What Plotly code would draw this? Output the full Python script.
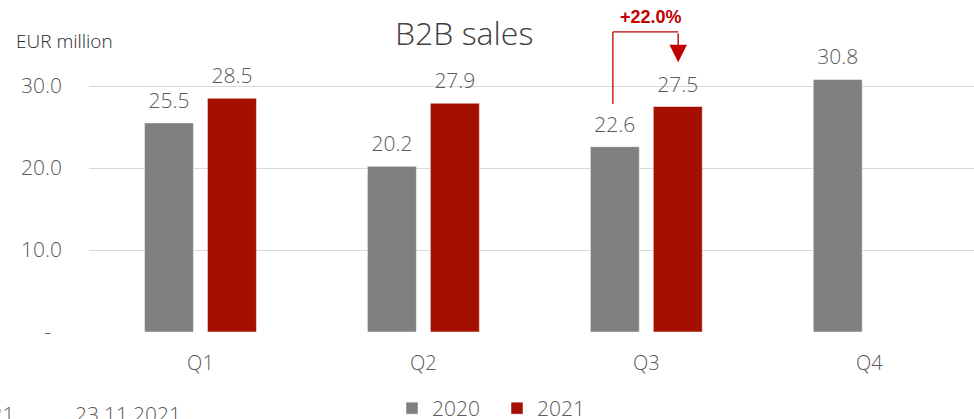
import plotly.graph_objects as go

quarters = ["Q1", "Q2", "Q3", "Q4"]
sales_2020 = [25.5, 20.2, 22.6, 30.8]
sales_2021 = [28.5, 27.9, 27.5, None]
tick_vals = [0, 10, 20, 30]
tick_text = ["-\u00a0\u00a0", "10.0", "20.0", "30.0"]
growth_label = "+22.0%"

GRAY = "#808080"
RED = "#A50F00"
ARROW = "#C00000"
TXT = "#595959"
FONT = "Open Sans"
W = 300
GAP = 0.435

PL, PB = 89, 332  # plot left / bottom in px
PH = 322


def py(px):
    return (PB - px) / PH


def pxx(px):
    return (px - PL) / 885


fig = go.Figure()
for name, vals, col in [("2020", sales_2020, GRAY), ("2021", sales_2021, RED)]:
    fig.add_trace(go.Bar(
        x=quarters, y=vals, name=name, offsetgroup=name,
        marker=dict(color=col, line=dict(color="white", width=0.5)),
        hoverinfo="skip",
    ))
for name, vals in [("2020", sales_2020), ("2021", sales_2021)]:
    fig.add_trace(go.Scatter(
        x=quarters, y=vals, mode="markers+text", offsetgroup=name, showlegend=False,
        marker=dict(size=14, opacity=0),
        text=[f"{v:.1f}" if v is not None else "" for v in vals], textposition="top center",
        textfont=dict(size=21, color=TXT, family=FONT, weight=W), cliponaxis=False,
        hoverinfo="skip",
    ))

# growth arrow Q3 (2020 -> 2021)
x_from = 2 - 0.15
x_to = 2 + 0.143
y_top = 36.6
fig.add_shape(type="line", xref="x", yref="y", x0=x_from, x1=x_from, y0=27.8, y1=y_top,
              line=dict(color=ARROW, width=1.3))
fig.add_shape(type="line", xref="x", yref="y", x0=x_from, x1=x_to, y0=y_top, y1=y_top,
              line=dict(color=ARROW, width=1.3))
fig.add_annotation(x=x_to, y=32.9, xref="x", yref="y", ax=x_to, ay=y_top, axref="x", ayref="y",
                   showarrow=True, arrowhead=2, arrowsize=2.5, arrowwidth=1.4,
                   arrowcolor=ARROW, text="")
fig.add_annotation(x=(x_from + x_to) / 2 + 0.025, y=38.4, xref="x", yref="y",
                   text=f"<b>{growth_label}</b>",
                   showarrow=False, font=dict(size=18, color=ARROW, family="Liberation Sans"))

# title and unit
fig.add_annotation(text="B2B sales", xref="paper", yref="paper", x=pxx(464), y=py(33),
                   xanchor="center", yanchor="middle", showarrow=False,
                   font=dict(size=32, color="#404040", family=FONT, weight=W))
fig.add_annotation(text="EUR million", xref="paper", yref="paper", x=pxx(14), y=py(41),
                   xanchor="left", yanchor="middle", showarrow=False,
                   font=dict(size=19, color="#262626", family=FONT, weight=W))
# footer (cut off)
fig.add_annotation(text="Q3 2021", xref="paper", yref="paper", x=pxx(16), y=py(414),
                   xanchor="right", yanchor="middle", showarrow=False,
                   font=dict(size=21, color=TXT, family=FONT, weight=W))
fig.add_annotation(text="23.11.2021", xref="paper", yref="paper", x=pxx(73), y=py(414),
                   xanchor="left", yanchor="middle", showarrow=False,
                   font=dict(size=21, color=TXT, family=FONT, weight=W))

fig.update_layout(
    width=974, height=419,
    margin=dict(l=PL, r=0, t=10, b=419 - PB, autoexpand=False),
    paper_bgcolor="white", plot_bgcolor="white",
    barmode="group", bargap=GAP, bargroupgap=0.222,
    scattermode="group", scattergap=GAP,
    font=dict(family=FONT, color=TXT, size=17, weight=W),
    showlegend=True,
    legend=dict(orientation="h", xref="container", yref="container", x=392 / 974, y=1 - 388 / 419,
                xanchor="left", yanchor="top", font=dict(size=21, color=TXT, family=FONT, weight=W),
                traceorder="normal", entrywidth=60, entrywidthmode="pixels"),
    xaxis=dict(range=[-0.5, 3.47], showgrid=False, showline=False, ticks="",
               tickfont=dict(size=20, color=TXT, family=FONT, weight=W), ticklabelstandoff=17),
    yaxis=dict(range=[0, (PB - 10) / 8.2], tickvals=tick_vals, ticktext=tick_text, showgrid=True,
               gridcolor="#D9D9D9", gridwidth=1.2, zeroline=False, showline=False, ticks="",
               tickfont=dict(size=21, color=TXT, family=FONT, weight=W), ticklabelstandoff=26),
)

fig.write_html("out.html", post_script="document.body.style.margin='0';",
               config={"displayModeBar": False})
